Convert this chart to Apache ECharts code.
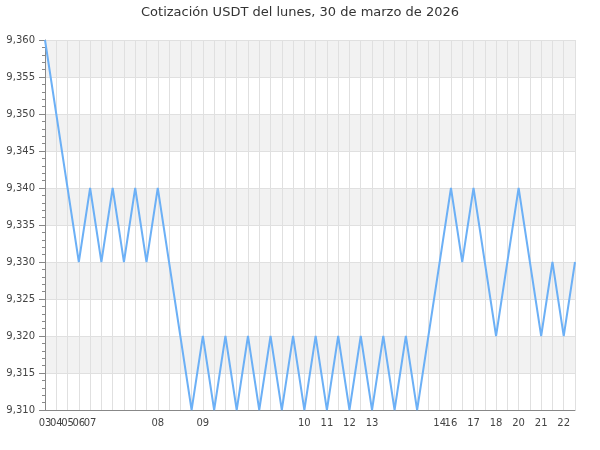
<!DOCTYPE html>
<html>
<head>
<meta charset="utf-8">
<script src="https://cdn.jsdelivr.net/npm/echarts@6/dist/echarts.min.js"></script>
<style>
html,body{margin:0;padding:0;background:#fff;}
#chart{width:600px;height:450px;}
</style>
</head>
<body>
<div id="chart"></div>
<script>
var titleText = 'Cotización USDT del lunes, 30 de marzo de 2026';
// One label per sample (empty where the reference shows no label)
var tickLabels = ['03','04','05','06','07','','','','','','08','','','','09','','','','','','','','','10','','11','','12','','13','','','','','','14','16','','17','','18','','20','','21','','22',''];
var prices = [9.360,9.350,9.340,9.330,9.340,9.330,9.340,9.330,9.340,9.330,9.340,9.330,9.320,9.310,9.320,9.310,9.320,9.310,9.320,9.310,9.320,9.310,9.320,9.310,9.320,9.310,9.320,9.310,9.320,9.310,9.320,9.310,9.320,9.310,9.320,9.330,9.340,9.330,9.340,9.330,9.320,9.330,9.340,9.330,9.320,9.330,9.320,9.330];
var yMin = 9.310, yMax = 9.360, yStep = 0.005;

var categories = tickLabels.map(function(l, i){ return 'p' + i; });
var font = 'DejaVu Sans';
var chart = echarts.init(document.getElementById('chart'), null, {renderer:'canvas'});
chart.setOption({
  animation:false,
  title:{text:titleText,left:'center',top:1,textStyle:{fontFamily:font,fontSize:13,fontWeight:'normal',color:'#333'}},
  grid:{left:45,right:25,top:40,bottom:40,containLabel:false},
  xAxis:{
    type:'category',data:categories,boundaryGap:false,
    axisLine:{lineStyle:{color:'#888'}},
    axisTick:{show:false},
    axisLabel:{interval:0,hideOverlap:false,fontFamily:font,fontSize:10,color:'#444',margin:8,
      formatter:function(v, i){ return tickLabels[i]; }},
    splitLine:{show:true,interval:0,lineStyle:{color:'#e0e0e0',width:1}}
  },
  yAxis:{
    type:'value',min:yMin,max:yMax,interval:yStep,
    axisLine:{show:true,lineStyle:{color:'#888'}},
    axisTick:{show:true,length:6,lineStyle:{color:'#888'}},
    minorTick:{show:true,splitNumber:5,length:3,lineStyle:{color:'#888'}},
    axisLabel:{fontFamily:font,fontSize:10,color:'#444',margin:10,
      formatter:function(v){ return v.toFixed(3).replace('.',','); }},
    splitLine:{show:true,lineStyle:{color:'#e0e0e0'}},
    splitArea:{show:true,areaStyle:{color:['#ffffff','#f2f2f2']}}
  },
  series:[{type:'line',data:prices,symbol:'none',lineStyle:{color:'#6cb0f6',width:2}}]
});
</script>
</body>
</html>
